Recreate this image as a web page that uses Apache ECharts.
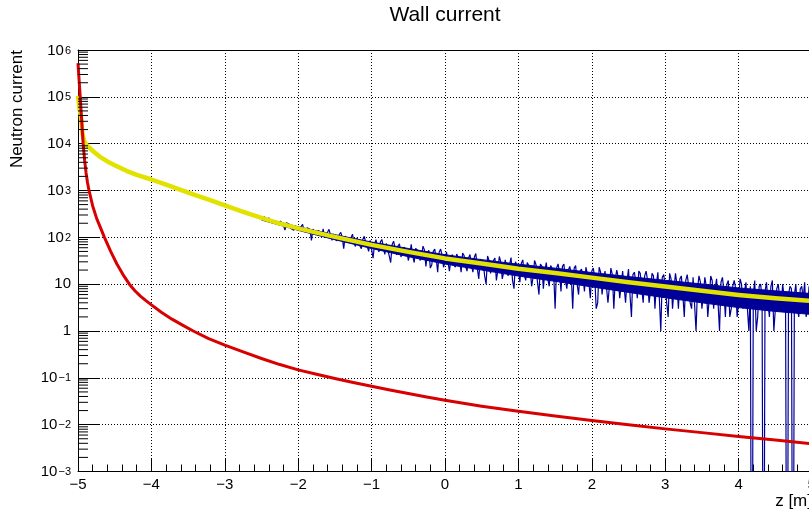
<!DOCTYPE html>
<html><head><meta charset="utf-8">
<script src="https://cdn.jsdelivr.net/npm/echarts@6/dist/echarts.min.js"></script>
<style>html,body{margin:0;padding:0;background:#fff}#c{width:809px;height:513px}</style>
</head><body><div id="c"></div>
<script>
// ---------- data ----------
const xMin = -5, xMax = 5;
const yMin = 1e-3, yMax = 1e6;
const yMinorMult = [2, 3, 4, 5, 6, 7, 8, 9];
const yDecades = [-3, -2, -1, 0, 1, 2, 3, 4, 5];

const redZ = [-5.00, -4.99, -4.98, -4.97, -4.96, -4.95, -4.94, -4.93, -4.91, -4.89, -4.87, -4.85, -4.80, -4.745, -4.69, -4.64, -4.555, -4.47, -4.385, -4.30, -4.225, -4.15, -4.075, -4.00, -3.86, -3.72, -3.57, -3.43, -3.22, -3.00, -2.75, -2.50, -2.25, -2.00, -1.75, -1.50, -1.25, -1.00, -0.75, -0.50, -0.25, 0.00, 0.50, 1.00, 1.50, 2.00, 2.50, 3.00, 3.50, 4.00, 4.50, 5.00];
const redVal = [525000, 295000, 174000, 100000, 56200, 31600, 17800, 10000, 4440, 2370, 1460, 1000, 468, 251, 155, 100, 50.1, 27.0, 15.8, 10.0, 7.23, 5.56, 4.44, 3.61, 2.49, 1.79, 1.32, 1.0, 0.689, 0.501, 0.357, 0.259, 0.192, 0.148, 0.119, 0.0966, 0.0794, 0.0661, 0.055, 0.0462, 0.0389, 0.0331, 0.0248, 0.0193, 0.0153, 0.0123, 0.0100, 0.00813, 0.00676, 0.00562, 0.00468, 0.00389];

const yellowZ = [-5.00, -4.98, -4.96, -4.94, -4.92, -4.90, -4.85, -4.79, -4.70, -4.60, -4.50, -4.34, -4.20, -4.02, -3.80, -3.65, -3.40, -3.20, -3.00, -2.75, -2.50, -2.25, -2.00, -1.50, -1.00, -0.50, 0.00, 0.50, 1.00, 1.50, 2.00, 2.50, 3.00, 3.50, 4.00, 4.50, 5.00];
const yellowVal = [105000, 56000, 38000, 16600, 12000, 10000, 8300, 6800, 5250, 4170, 3470, 2630, 2160, 1760, 1330, 1100, 794, 624, 479, 351, 260, 197, 155, 102, 69, 49, 35.5, 27.5, 21.4, 17.4, 13.8, 11.0, 8.9, 7.2, 5.9, 5.0, 4.4];

// blue histogram: head hidden under the yellow curve
const blueHeadZ = [-5.00, -4.97, -4.94, -4.90, -4.85, -4.78, -4.70, -4.60, -4.50, -4.40, -4.30, -4.20, -4.10, -4.00, -3.90, -3.80, -3.70, -3.60, -3.50, -3.40, -3.30, -3.20, -3.10, -3.00, -2.90, -2.80, -2.70, -2.60, -2.50];
const blueHead = [100000, 41700, 16600, 9800, 8100, 6450, 5250, 4070, 3470, 2820, 2450, 2140, 1920, 1720, 1540, 1320, 1190, 1040, 930, 780, 700, 600, 545, 455, 415, 365, 330, 282, 255];

// blue histogram: noisy part; bins every 0.02 from -2.46 (A = even bins, B = odd bins)
const blueStart = -2.46, blueStep = 0.02;
const blueBinsA = [
  274, 216, 244, 191, 243, 189, 214, 143, 203, 155,
  142, 192, 138, 189, 120, 162, 86, 162, 111, 145,
  151, 96, 148, 86, 121, 91, 128, 57, 111, 73,
  117, 64, 102, 57, 105, 64, 86, 36, 89, 49,
  90, 43, 76, 29, 83, 42, 73, 35, 59, 32,
  71, 29, 61, 32, 65, 24, 53, 26, 56, 18,
  56, 23, 49, 19, 43, 23, 48, 18, 41, 19,
  43, 18, 45, 13, 37, 15, 40, 17, 32, 12,
  39, 13, 33, 15, 37, 8, 32, 11, 33, 12,
  31, 9, 32, 11, 27, 8, 29, 9, 23, 3,
  27, 7, 27, 8, 24, 3, 25, 6, 21, 7,
  24, 5, 22, 3, 23, 6, 19, 4, 22, 3,
  20, 5, 19, 4, 21, 2, 18, 5, 17, 4,
  19, 4, 17, 3, 18, 1, 16, 4, 17, 3,
  17, 3, 15, 2, 16, 4, 14, 1, 15, 3,
  14, 2, 15, 3, 13, 1, 14, 2, 12, 3,
  12, 2, 13, 3, 11, 1, 0, 12, 2, 10,
  0, 11, 2, 12, 1, 10, 3, 11, 0, 9,
  0, 10, 2, 9, 11, 3, 8
];
const blueBinsB = [
  238, 260, 205, 229, 198, 222, 176, 205, 190, 168,
  178, 150, 170, 131, 160, 148, 150, 118, 140, 108,
  102, 130, 110, 118, 84, 115, 100, 106, 80, 98,
  74, 98, 66, 90, 78, 50, 84, 72, 60, 80,
  62, 74, 40, 70, 58, 66, 38, 62, 52, 44,
  40, 58, 50, 38, 54, 46, 22, 50, 36, 48,
  42, 30, 52, 33, 26, 44, 30, 46, 24, 36,
  26, 38, 22, 34, 30, 10, 32, 24, 36, 20,
  30, 18, 36, 26, 12, 30, 20, 28, 16, 29,
  22, 14, 26, 6, 24, 19, 13, 25, 18, 22,
  18, 24, 12, 20, 16, 22, 10, 19, 15, 23,
  11, 19, 14, 4, 18, 12, 20, 9, 16, 13,
  14, 9, 18, 12, 6, 16, 11, 19, 8, 15,
  12, 7, 15, 10, 5, 14, 9, 2, 13, 8,
  10, 13, 6, 12, 9, 3, 13, 8, 11, 6,
  9, 5, 12, 8, 4, 11, 7, 10, 2, 9,
  8, 4, 10, 7, 3, 9, 6, 1, 9, 5,
  7, 4, 9, 1, 8, 5, 10, 3, 6, 8,
  6, 3, 8, 5, 2, 9, 4
];

// solid core of the blue histogram band
const bandZ = [-2.5, -2.0, -1.5, -1.0, -0.5, 0.0, 0.5, 1.0, 1.5, 2.0, 2.5, 3.0, 3.5, 4.0, 4.5, 5.0];
const bandHi = [265, 168, 114, 79.4, 57.8, 42.5, 33.4, 26.7, 22.0, 17.7, 14.5, 12.1, 10.1, 8.3, 7.2, 6.3];
const bandLo = [234, 141, 89, 57.8, 38.7, 26.9, 20.0, 14.9, 11.5, 8.75, 6.67, 5.13, 4.0, 3.16, 2.62, 2.25];

// ---------- build ----------
const FONT = '"Liberation Sans", Arial, Helvetica, sans-serif';
const BLUE = '#000099';
const zeroFloor = 1e-9; // log axis cannot show 0: empty bins go far below the frame
const redData = redZ.map((z, i) => [z, redVal[i]]);
const yellowData = yellowZ.map((z, i) => [z, yellowVal[i]]);
const blueData = blueHeadZ.map((z, i) => [z, blueHead[i]]);
blueBinsA.forEach((v, i) => {
  blueData.push([+(blueStart + 2 * i * blueStep).toFixed(3), v > 0 ? v : zeroFloor]);
  const w = blueBinsB[i];
  blueData.push([+(blueStart + (2 * i + 1) * blueStep).toFixed(3), w > 0 ? w : zeroFloor]);
});
const bandData = bandZ.map((z, i) => [z, bandLo[i], bandHi[i]]);
const yMinorData = [];
yDecades.forEach(d => yMinorMult.forEach(m => yMinorData.push([xMin, m * Math.pow(10, d)])));
const xFmt = v => v < 0 ? '\u2212' + (-v) : String(v);

const chart = echarts.init(document.getElementById('c'), null, {renderer: 'canvas'});
const graphics = [
  {type: 'text', x: 445, y: 15, style: {text: 'Wall current', fontSize: 21, fontFamily: FONT, fill: '#000', align: 'center', verticalAlign: 'middle'}},
  {type: 'text', x: 17.5, y: 50, rotation: Math.PI / 2, style: {text: 'Neutron current', fontSize: 17, fontFamily: FONT, fill: '#000', align: 'right', verticalAlign: 'middle'}},
  {type: 'text', x: 812, y: 501, style: {text: 'z [m]', fontSize: 17, fontFamily: FONT, fill: '#000', align: 'right', verticalAlign: 'middle'}}
];
chart.setOption({
  backgroundColor: '#fff',
  animation: false,
  grid: {left: 78, width: 734, top: 50, height: 421.5, containLabel: false, outerBoundsMode: 'none'},
  graphic: graphics,
  xAxis: [{
    type: 'value', min: xMin, max: xMax, interval: 1,
    axisLine: {show: true, onZero: false, lineStyle: {color: '#000', width: 1}},
    axisTick: {show: true, inside: true, length: 13, lineStyle: {color: '#000', width: 1}},
    minorTick: {show: true, splitNumber: 5, length: 7, lineStyle: {color: '#000', width: 1}},
    splitLine: {show: true, lineStyle: {color: '#000', width: 1, type: [1, 2]}},
    axisLabel: {margin: 6, fontSize: 15, fontFamily: FONT, color: '#000', showMaxLabel: true, showMinLabel: true,
      hideOverlap: false, formatter: xFmt}
  }, {
    type: 'value', min: xMin, max: xMax, position: 'top',
    axisLine: {show: true, onZero: false, lineStyle: {color: '#000', width: 1}},
    axisTick: {show: false}, axisLabel: {show: false}, splitLine: {show: false}
  }],
  yAxis: [{
    type: 'log', logBase: 10, min: yMin, max: yMax, splitNumber: 9,
    axisLine: {show: true, onZero: false, lineStyle: {color: '#000', width: 1}},
    axisTick: {show: true, inside: true, length: 21, lineStyle: {color: '#000', width: 1}},
    minorTick: {show: false},
    splitLine: {show: true, lineStyle: {color: '#000', width: 1, type: [1, 2]}},
    axisLabel: {
      margin: 7, color: '#000', fontFamily: FONT,
      formatter: v => {
        const e = Math.round(Math.log10(v));
        if (e === 0) return '{p|1}';
        if (e === 1) return '{p|10}';
        return '{b|10}{s|' + (e < 0 ? '\u2212' + (-e) : e) + '}';
      },
      rich: {
        p: {fontSize: 15, lineHeight: 16, fontFamily: FONT, color: '#000'},
        b: {fontSize: 15, lineHeight: 16, padding: [8, 0, 0, 0], verticalAlign: 'bottom', fontFamily: FONT, color: '#000'},
        s: {fontSize: 11, lineHeight: 12, padding: [3, 0, 0, 1], verticalAlign: 'top', fontFamily: FONT, color: '#000'}
      }
    }
  }],
  series: [
    {name: 'blueCore', type: 'custom', data: bandData, z: 1, silent: true, clip: true,
      renderItem: (params, api) => {
        if (params.dataIndex !== 0) return null;
        const pts = [];
        bandZ.forEach((z, i) => pts.push(api.coord([z, bandHi[i]])));
        for (let i = bandZ.length - 1; i >= 0; i--) pts.push(api.coord([bandZ[i], bandLo[i]]));
        return {type: 'polygon', shape: {points: pts}, style: {fill: BLUE, stroke: BLUE, lineWidth: 1}};
      }},
    {name: 'blue', type: 'line', data: blueData, symbol: 'none', clip: true,
      lineStyle: {color: BLUE, width: 1.2}, z: 2},
    {name: 'yellow', type: 'line', data: yellowData, symbol: 'none', clip: true,
      lineStyle: {color: '#e2e200', width: 4.5, join: 'round'}, z: 3},
    {name: 'red', type: 'line', data: redData, symbol: 'none', clip: true,
      lineStyle: {color: '#d80000', width: 3, join: 'round'}, z: 4},
    {name: 'yMinorTicks', type: 'custom', data: yMinorData, clip: false, z: 5, silent: true,
      renderItem: (params, api) => {
        const p = api.coord([api.value(0), api.value(1)]);
        return {type: 'line', shape: {x1: p[0], y1: p[1], x2: p[0] + 10, y2: p[1]},
          style: {stroke: '#000', lineWidth: 1}};
      }}
  ]
});
// the last x tick label sits half outside the canvas; ECharts drops it, so place it at the axis position
const pMax = chart.convertToPixel({xAxisIndex: 0, yAxisIndex: 0}, [xMax, yMin]);
graphics.push({type: 'text', x: pMax[0], y: pMax[1] + 6, style: {text: xFmt(xMax), fontSize: 15, fontFamily: FONT, fill: '#000', align: 'center', verticalAlign: 'top'}});
chart.setOption({graphic: graphics});
</script>
</body></html>
